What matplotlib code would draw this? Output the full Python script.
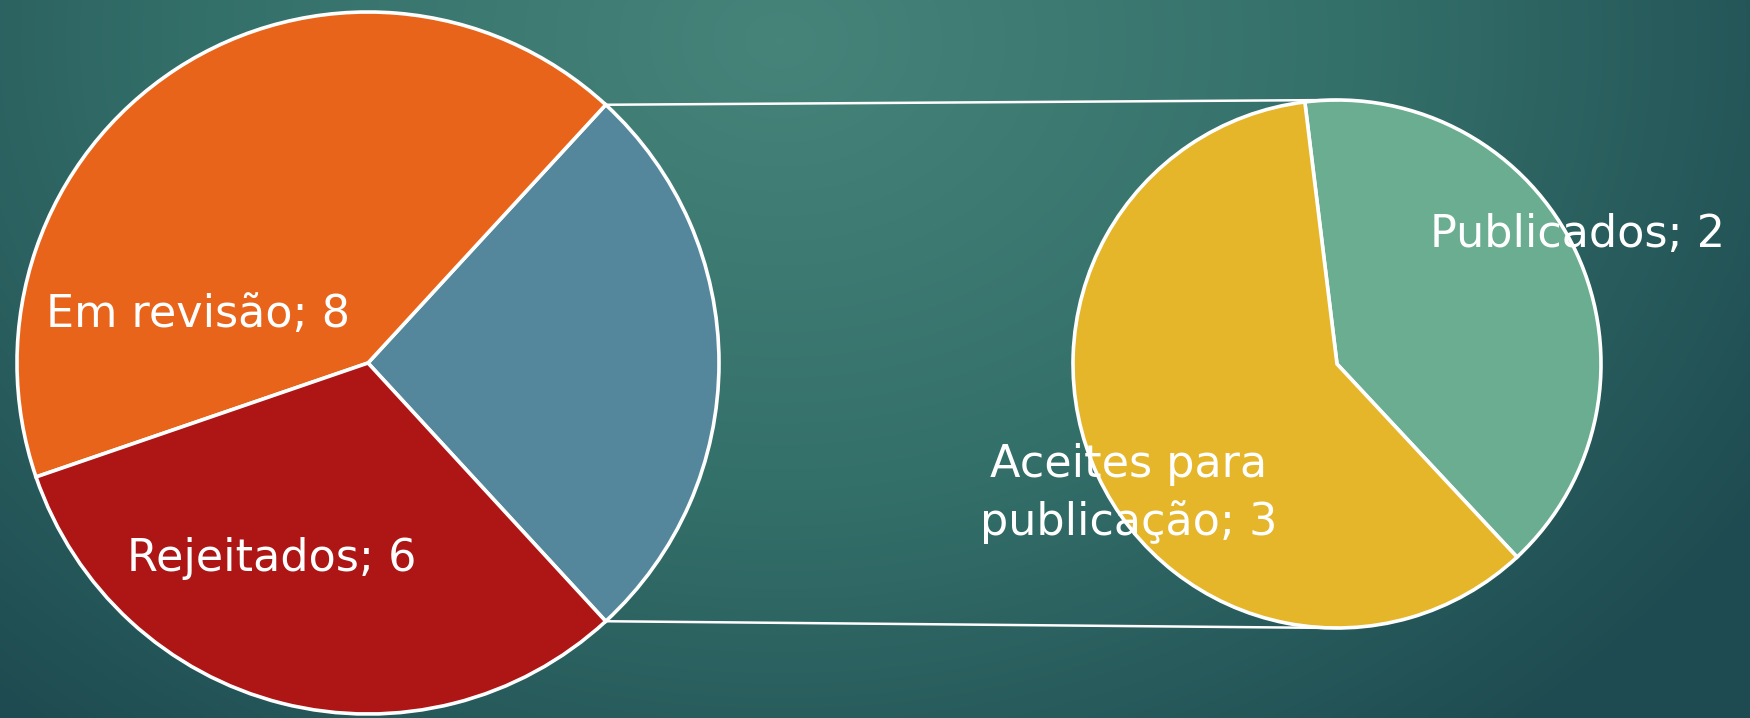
import numpy as np
import matplotlib.pyplot as plt
from matplotlib.colors import LinearSegmentedColormap

# pie-of-pie data: last slice of the first pie is split out in the second pie
main_labels = ["Em revisão", "Rejeitados"]
main_values = [8, 6]
sub_labels = ["Publicados", "Aceites para publicação"]
sub_values = [2, 3]

main_colors = ["#E8641A", "#AE1515"]
other_color = "#55879C"
sub_colors = ["#6AAD90", "#E5B52A"]

W, H = 1750, 718
plt.rcParams['font.family'] = ['DejaVu Sans']

fig = plt.figure(figsize=(W / 100, H / 100), dpi=100)
ax = fig.add_axes([0, 0, 1, 1])

# teal background, lighter towards the top middle
yy, xx = np.mgrid[0:H, 0:W]
d = np.sqrt(((xx - 780) / 1150.0) ** 2 + ((yy - 40) / 900.0) ** 2)
d = np.clip(d, 0, 1)
bg_cmap = LinearSegmentedColormap.from_list("bg", ["#46847A", "#34706A", "#1E4B51"])
ax.imshow(d, cmap=bg_cmap, extent=(0, W, 0, H), origin="upper", aspect="auto", zorder=0)

# first pie
c1, r1 = (368, 355), 351
other_total = sum(sub_values)
vals1 = [other_total] + main_values
start1 = -other_total / sum(vals1) * 180
w1, _ = ax.pie(vals1, colors=[other_color] + main_colors, startangle=start1,
               center=c1, radius=r1, frame=True,
               wedgeprops=dict(edgecolor="white", linewidth=2.6))

# second pie
c2, r2 = (1337, 354), 264
w2, _ = ax.pie(sub_values, colors=sub_colors, startangle=-47,
               center=c2, radius=r2, frame=True,
               wedgeprops=dict(edgecolor="white", linewidth=2.6))

# connector lines from the "other" slice to top and bottom of second pie
for ang, sign in [(w1[0].theta2, 1), (w1[0].theta1, -1)]:
    x0 = c1[0] + r1 * np.cos(np.radians(ang))
    y0 = c1[1] + r1 * np.sin(np.radians(ang))
    ax.plot([x0, c2[0]], [y0, c2[1] + sign * r2], color="white", lw=1.8, zorder=3)

# labels
fs = 32
kw = dict(color="white", fontsize=fs, va="baseline", zorder=5)
ax.text(46, 391, f"{main_labels[0]}; {main_values[0]}", ha="left", **kw)
ax.text(272, 147, f"{main_labels[1]}; {main_values[1]}", ha="center", **kw)
ax.text(1430, 471, f"{sub_labels[0]}; {sub_values[0]}", ha="left", **kw)
ax.text(1129, 241, "Aceites para", ha="center", **kw)
ax.text(1129, 183, f"publicação; {sub_values[1]}", ha="center", **kw)

ax.set_xlim(0, W)
ax.set_ylim(0, H)
ax.set_aspect("equal")
ax.axis("off")

fig.savefig("out.png", dpi=100)
